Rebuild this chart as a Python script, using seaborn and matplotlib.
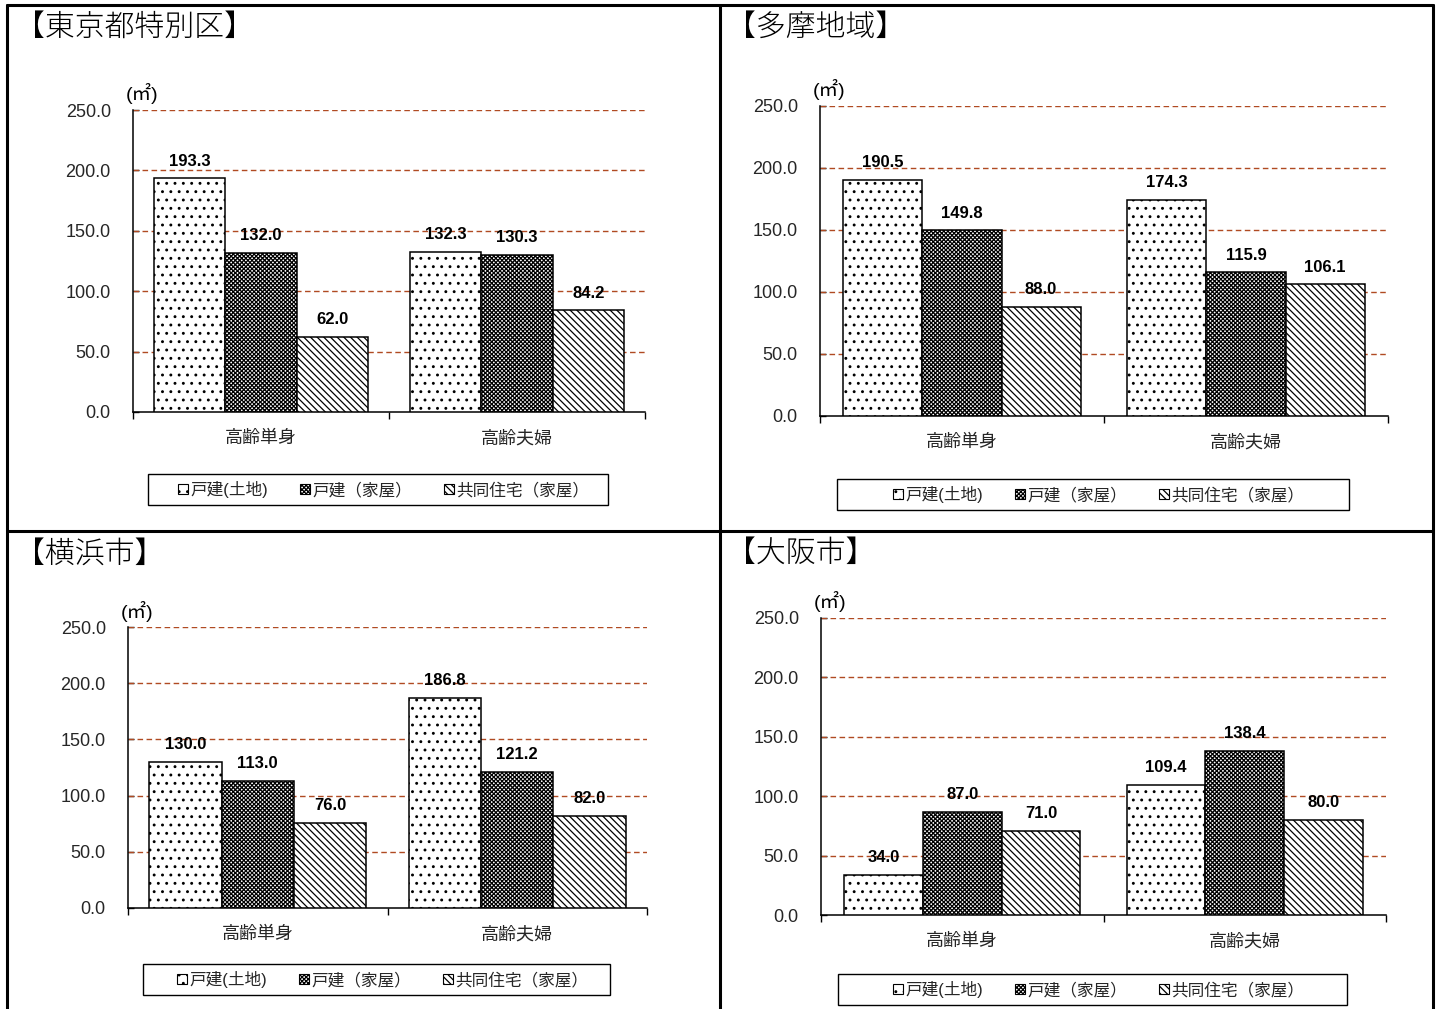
import matplotlib
matplotlib.use("Agg")
import matplotlib.pyplot as plt
from matplotlib.patches import Rectangle, Patch
from matplotlib.lines import Line2D
import seaborn as sns
import pandas as pd

# ---- data ----
households = ["高齢単身", "高齢夫婦"]
types = ["戸建(土地)", "戸建（家屋）", "共同住宅（家屋）"]

regions = ["【東京都特別区】", "【多摩地域】", "【横浜市】", "【大阪市】"]

tokyo_single = [193.3, 132.0, 62.0]
tokyo_couple = [132.3, 130.3, 84.2]
tama_single = [190.5, 149.8, 88.0]
tama_couple = [174.3, 115.9, 106.1]
yokohama_single = [130.0, 113.0, 76.0]
yokohama_couple = [186.8, 121.2, 82.0]
osaka_single = [34.0, 87.0, 71.0]
osaka_couple = [109.4, 138.4, 80.0]

region_values = [
    (tokyo_single, tokyo_couple),
    (tama_single, tama_couple),
    (yokohama_single, yokohama_couple),
    (osaka_single, osaka_couple),
]

y_ticks = [0.0, 50.0, 100.0, 150.0, 200.0, 250.0]
unit_label = "(㎡)"

# ---- style ----
sns.set_theme(style="white")
plt.rcParams["font.family"] = ["Liberation Sans", "Noto Sans CJK JP", "DejaVu Sans"]
plt.rcParams["hatch.color"] = "black"
plt.rcParams["hatch.linewidth"] = 0.9

GRID_COLOR = "#B04A22"
hatches = ["..", "xxxxxxxx", "\\\\\\\\\\"]

W, H = 1441, 1009
fig = plt.figure(figsize=(W / 100, H / 100), dpi=100)
fig.patch.set_facecolor("white")


def px_rect(left, right, top, bottom):
    return [left / W, 1 - bottom / H, (right - left) / W, (bottom - top) / H]


# axes boxes (left, right, top, bottom) in pixels
axes_px = [
    (133, 645, 110, 412),
    (820, 1388, 106, 416),
    (128, 647, 627, 908),
    (821, 1386, 618, 915),
]
title_px = [(15, 28), (726, 28), (15, 554), (726, 554)]
legend_box_px = [
    (148, 608, 474, 505),
    (837, 1349, 479, 510),
    (143, 610, 964, 995),
    (838, 1347, 974, 1005),
]

for i, (box, vals) in enumerate(zip(axes_px, region_values)):
    ax = fig.add_axes(px_rect(*box))
    single, couple = vals
    df = pd.DataFrame({
        "世帯": [households[0]] * 3 + [households[1]] * 3,
        "種類": types * 2,
        "面積": list(single) + list(couple),
    })
    sns.barplot(
        data=df, x="世帯", y="面積", hue="種類",
        order=households, hue_order=types,
        palette=["white"] * 3, edgecolor="black", linewidth=1.1,
        width=0.835, gap=0, dodge=True, legend=False, ax=ax,
        errorbar=None, zorder=3,
    )
    for cont, h in zip(ax.containers, hatches):
        for bar in cont:
            bar.set_hatch(h)
            bar.set_zorder(3)
        labels = [f"{v:.1f}" for v in cont.datavalues]
        ax.bar_label(cont, labels=labels, padding=7, fontsize=12,
                     fontweight="bold", color="black", zorder=5)

    ax.set_ylim(0, 250)
    ax.set_xlim(-0.5, 1.5)
    ax.set_yticks(y_ticks)
    ax.set_yticklabels([f"{t:.1f}" for t in y_ticks], fontsize=13)
    ax.set_xlabel("")
    ax.set_ylabel("")
    for t in y_ticks[1:]:
        ax.axhline(t, color=GRID_COLOR, linestyle=(0, (4, 2.5)),
                   linewidth=1.0, zorder=1)
    ax.tick_params(axis="y", direction="in", length=4, width=1,
                   color="black", pad=16, left=True)
    # category labels below, tick marks at category boundaries
    ax.set_xticks([0, 1])
    ax.set_xticklabels(households, fontsize=13)
    ax.tick_params(axis="x", length=0, pad=13)
    ax.set_xticks([-0.5, 0.5, 1.5], minor=True)
    ax.tick_params(axis="x", which="minor", direction="out", length=5,
                   width=1, color="black", bottom=True)
    for s in ["top", "right"]:
        ax.spines[s].set_visible(False)
    for s in ["left", "bottom"]:
        ax.spines[s].set_color("black")
        ax.spines[s].set_linewidth(1.1)
    ax.set_facecolor("none")

    # unit label above the value axis
    fig.text((box[0] + 9) / W, 1 - (box[2] - 16) / H, unit_label,
             fontsize=14, ha="center", va="center", color="black")

    # region title
    tx, ty = title_px[i]
    fig.text(tx / W, 1 - ty / H, regions[i], fontsize=21.5,
             family=["Noto Sans CJK JP"], fontweight="light",
             ha="left", va="center", color="black")

    # legend inside a plain rectangular box
    lb = legend_box_px[i]
    fig.add_artist(Rectangle((lb[0] / W, 1 - lb[3] / H),
                             (lb[1] - lb[0]) / W, (lb[3] - lb[2]) / H,
                             transform=fig.transFigure, facecolor="white",
                             edgecolor="black", linewidth=1.0))
    handles = [Patch(facecolor="white", edgecolor="black", hatch=h,
                     linewidth=0.8) for h in hatches]
    fig.legend(handles, types, loc="center",
               bbox_to_anchor=((lb[0] + lb[1]) / 2 / W + 6 / W,
                               1 - (lb[2] + lb[3]) / 2 / H),
               ncol=3, frameon=False, fontsize=12,
               handlelength=0.6, handleheight=0.6, handletextpad=0.15,
               columnspacing=1.9, borderpad=0.2)

# panel frame lines
frame_kw = dict(color="black", linewidth=2.2, transform=fig.transFigure)
fig.add_artist(Line2D([7 / W, 7 / W], [0, 1 - 5 / H], **frame_kw))
fig.add_artist(Line2D([1433 / W, 1433 / W], [0, 1 - 5 / H], **frame_kw))
fig.add_artist(Line2D([7 / W, 1433 / W], [1 - 5 / H, 1 - 5 / H], **frame_kw))
fig.add_artist(Line2D([720 / W, 720 / W], [0, 1 - 5 / H], **frame_kw))
fig.add_artist(Line2D([7 / W, 1433 / W], [1 - 531 / H, 1 - 531 / H], **frame_kw))

fig.savefig("out.png", dpi=100, facecolor="white")
